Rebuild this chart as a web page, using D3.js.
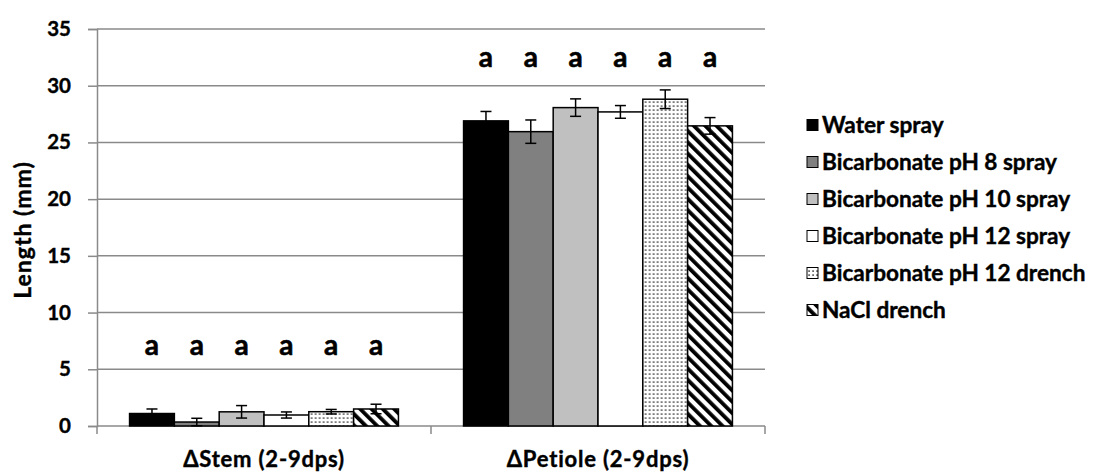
<!DOCTYPE html>
<html>
<head>
<meta charset="utf-8">
<script src="https://cdn.jsdelivr.net/npm/d3@7"></script>
<style>
  body { margin: 0; background: #fff; }
  svg text { font-family: Lato, "Open Sans", sans-serif; font-weight: bold; fill: #000; stroke: #000; stroke-width: 0.4px; }
</style>
</head>
<body>
<div id="chart"></div>
<script>
// data
var groups = ["ΔStem (2-9dps)", "ΔPetiole (2-9dps)"];
var seriesNames = ["Water spray", "Bicarbonate pH 8 spray", "Bicarbonate pH 10 spray",
    "Bicarbonate pH 12 spray", "Bicarbonate pH 12 drench", "NaCl drench"];
var stemMeans = [1.1, 0.35, 1.25, 0.97, 1.26, 1.5];
var stemErr = [0.4, 0.33, 0.55, 0.27, 0.2, 0.42];
var petioleMeans = [26.9, 25.95, 28.07, 27.69, 28.81, 26.46];
var petioleErr = [0.83, 1.03, 0.77, 0.56, 0.82, 0.73];
var stemLetters = ["a", "a", "a", "a", "a", "a"];
var petioleLetters = ["a", "a", "a", "a", "a", "a"];
var yTicks = [0, 5, 10, 15, 20, 25, 30, 35];

var width = 1118, height = 474;
var margin = { top: 29, right: 353, bottom: 48, left: 97 };

var svg = d3.select("#chart")
    .append("svg")
    .attr("width", width)
    .attr("height", height);

var defs = svg.append("defs");

// fine dotted fill
var dots = defs.append("pattern")
    .attr("id", "dots")
    .attr("patternUnits", "userSpaceOnUse")
    .attr("width", 4)
    .attr("height", 4);
dots.append("rect").attr("width", 4).attr("height", 4).attr("fill", "#fff");
dots.append("rect").attr("x", 1.3).attr("y", 1.3).attr("width", 1.6).attr("height", 1.6).attr("fill", "#444");

// wide diagonal stripes
var stripes = defs.append("pattern")
    .attr("id", "stripes")
    .attr("patternUnits", "userSpaceOnUse")
    .attr("width", 8)
    .attr("height", 8)
    .attr("patternTransform", "rotate(-45)");
stripes.append("rect").attr("width", 8).attr("height", 8).attr("fill", "#fff");
stripes.append("rect").attr("width", 3.8).attr("height", 8).attr("fill", "#000");

var fills = ["#000", "#808080", "#c0c0c0", "#fff", "url(#dots)", "url(#stripes)"];

var x0 = d3.scaleBand()
    .domain(groups)
    .range([margin.left, width - margin.right])
    .paddingInner(0.195)
    .paddingOuter(0.0975);

var x1 = d3.scaleBand()
    .domain(seriesNames)
    .range([0, x0.bandwidth()]);

var y = d3.scaleLinear()
    .domain([0, 35])
    .range([height - margin.bottom, margin.top]);

var table = [
    { group: groups[0], means: stemMeans, errs: stemErr, letters: stemLetters, letterAt: 6.26 },
    { group: groups[1], means: petioleMeans, errs: petioleErr, letters: petioleLetters, letterAt: 31.66 }
];

// gridlines
svg.append("g")
    .selectAll("line")
    .data(yTicks)
    .enter().append("line")
    .attr("x1", margin.left)
    .attr("x2", width - margin.right)
    .attr("y1", function(d) { return y(d); })
    .attr("y2", function(d) { return y(d); })
    .attr("stroke", "#8a8a8a")
    .attr("stroke-width", 1.5);

// y axis
var yAxis = svg.append("g")
    .attr("transform", "translate(" + margin.left + ",0)")
    .call(d3.axisLeft(y).tickValues(yTicks).tickSize(9).tickPadding(17));
yAxis.select(".domain").attr("stroke", "#8a8a8a").attr("stroke-width", 1.5);
yAxis.selectAll(".tick line").attr("stroke", "#8a8a8a").attr("stroke-width", 1.5);
yAxis.selectAll(".tick text")
    .style("font-size", "20.5px")
    .style("font-family", "Lato, sans-serif")
    .attr("fill", "#000");

// x axis boundary ticks
var gap = (x0.step() - x0.bandwidth()) / 2;
var bounds = groups.map(function(g) { return x0(g) - gap; });
bounds.push(x0(groups[groups.length - 1]) + x0.bandwidth() + gap);
svg.append("g")
    .selectAll("line")
    .data(bounds)
    .enter().append("line")
    .attr("x1", function(d) { return d; })
    .attr("x2", function(d) { return d; })
    .attr("y1", y(0))
    .attr("y2", y(0) + 8)
    .attr("stroke", "#8a8a8a")
    .attr("stroke-width", 1.5);

// group labels
svg.append("g")
    .selectAll("text")
    .data(groups)
    .enter().append("text")
    .attr("x", function(d) { return x0(d) + x0.bandwidth() / 2; })
    .attr("y", 467)
    .attr("text-anchor", "middle")
    .style("font-size", "22px")
    .style("letter-spacing", "0.8px")
    .text(function(d) { return d; });

// y title
svg.append("text")
    .attr("transform", "translate(31," + 230 + ") rotate(-90)")
    .attr("text-anchor", "middle")
    .style("font-size", "23px")
    .style("letter-spacing", "1px")
    .text("Length (mm)");

var groupG = svg.selectAll(".grp")
    .data(table)
    .enter().append("g")
    .attr("class", "grp")
    .attr("transform", function(d) { return "translate(" + x0(d.group) + ",0)"; });

// bars
groupG.selectAll("rect")
    .data(function(d) { return d.means.map(function(m, i) { return { name: seriesNames[i], v: m, i: i }; }); })
    .enter().append("rect")
    .attr("x", function(d) { return x1(d.name); })
    .attr("y", function(d) { return y(d.v); })
    .attr("width", x1.bandwidth())
    .attr("height", function(d) { return y(0) - y(d.v); })
    .attr("fill", function(d) { return fills[d.i]; })
    .attr("stroke", "#000")
    .attr("stroke-width", 1.5);

// error bars
var errG = groupG.selectAll(".err")
    .data(function(d) { return d.means.map(function(m, i) { return { name: seriesNames[i], v: m, e: d.errs[i] }; }); })
    .enter().append("g")
    .attr("class", "err")
    .attr("transform", function(d) { return "translate(" + (x1(d.name) + x1.bandwidth() / 2) + ",0)"; });
errG.append("line")
    .attr("y1", function(d) { return y(d.v - d.e); })
    .attr("y2", function(d) { return y(d.v + d.e); })
    .attr("stroke", "#000").attr("stroke-width", 1.5);
errG.selectAll(".cap")
    .data(function(d) { return [d.v - d.e, d.v + d.e]; })
    .enter().append("line")
    .attr("class", "cap")
    .attr("x1", -5.5).attr("x2", 5.5)
    .attr("y1", function(d) { return y(d); })
    .attr("y2", function(d) { return y(d); })
    .attr("stroke", "#000").attr("stroke-width", 1.5);

// significance letters
groupG.selectAll(".letter")
    .data(function(d) { return d.letters.map(function(l, i) { return { name: seriesNames[i], t: l, at: d.letterAt }; }); })
    .enter().append("text")
    .attr("class", "letter")
    .attr("x", function(d) { return x1(d.name) + x1.bandwidth() / 2; })
    .attr("y", function(d) { return y(d.at); })
    .attr("text-anchor", "middle")
    .style("font-size", "28px")
    .style("stroke-width", "0.6px")
    .text(function(d) { return d.t; });

// legend
var legend = svg.append("g")
    .attr("transform", "translate(807,125)");
var row = legend.selectAll("g")
    .data(seriesNames)
    .enter().append("g")
    .attr("transform", function(d, i) { return "translate(0," + (i * 37) + ")"; });
row.append("rect")
    .attr("x", 0).attr("y", -5.5)
    .attr("width", 11).attr("height", 11)
    .attr("fill", function(d, i) { return fills[i]; })
    .attr("stroke", "#000")
    .attr("stroke-width", 1);
row.append("text")
    .attr("x", 15)
    .attr("y", 0)
    .attr("dy", "0.36em")
    .style("font-size", "22.6px")
    .text(function(d) { return d; });
</script>
</body>
</html>
